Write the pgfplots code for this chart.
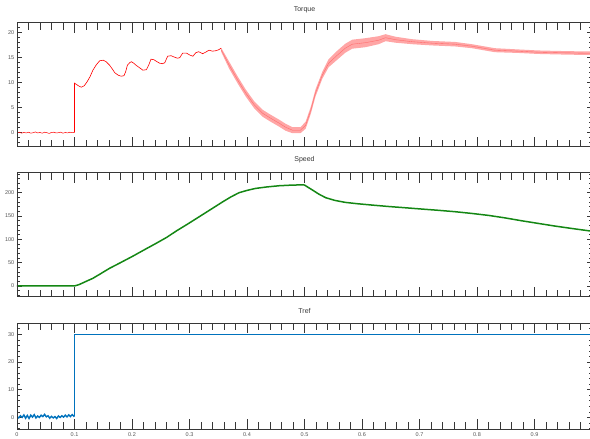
\documentclass[border=0pt]{standalone}
\usepackage{fontspec}
\setmainfont{Liberation Sans}
\usepackage{pgfplots}
\pgfplotsset{compat=1.18}
\usepgfplotslibrary{fillbetween}
\definecolor{mred}{RGB}{255,0,0}
\definecolor{mgreen}{RGB}{20,135,20}
\definecolor{mblue}{RGB}{0,114,189}
\definecolor{axgray}{RGB}{55,55,55}
\definecolor{lblgray}{RGB}{85,85,85}
\pgfplotsset{
  panel/.style={scale only axis, width=575pt, anchor=south west,
    xmin=0, xmax=1, tick align=inside,
    axis line style={axgray, line width=0.8pt},
    every tick/.style={axgray, line width=0.7pt},
    /pgf/number format/assume math mode=true},
  yside/.style={panel, xtick=\empty, major tick length=5pt, minor tick length=3pt,
    minor y tick num=4,
    yticklabel style={font=\fontsize{5.5}{5.5}\selectfont, text=lblgray, inner sep=0pt, xshift=-2.5pt},
    title style={font=\fontsize{7}{7}\selectfont, text=axgray, inner sep=0pt, yshift=4pt}},
  xside/.style={panel, ytick=\empty, xtick={0,0.1,...,1.0}, minor x tick num=4,
    major tick length=10pt, minor tick length=7pt, xticklabels={}},
}
\begin{document}
\begin{tikzpicture}
% ---------- Torque ----------
\begin{axis}[yside, at={(17pt,292.3pt)}, height=124pt, ymin=-2.8, ymax=22,
  ytick={-5,0,5,10,15,20,25}, title={Torque}]
\addplot[mred, line width=0.5pt] coordinates {
(0,0.0)(0.004,0.1)(0.008,-0.1)(0.012,0.05)(0.016,-0.05)(0.02,0.1)(0.024,-0.1)(0.028,0.0)
(0.032,0.15)(0.036,-0.05)(0.04,0.05)(0.044,-0.1)(0.048,0.1)(0.052,0.0)(0.056,-0.15)(0.06,0.05)
(0.064,0.1)(0.068,-0.05)(0.072,0.0)(0.076,0.1)(0.08,-0.1)(0.084,0.05)(0.088,-0.05)(0.092,0.1)
(0.096,0.0)(0.1,0.05)};
\addplot[mred, line width=0.6pt] coordinates {
(0.1,0.05)(0.1,9.9)(0.104,9.6)(0.108,9.3)(0.112,9.1)(0.117,9.4)(0.122,10.2)(0.127,11.2)
(0.132,12.5)(0.138,13.6)(0.144,14.4)(0.150,14.5)(0.155,14.2)(0.161,13.5)(0.166,12.7)(0.170,12.0)
(0.176,11.5)(0.181,11.3)(0.186,11.4)(0.189,12.2)(0.192,13.5)(0.196,14.0)(0.199,14.2)(0.203,13.9)
(0.207,13.5)(0.213,13.0)(0.219,12.5)(0.225,12.6)(0.229,13.5)(0.233,14.7)(0.238,14.6)(0.242,14.3)
(0.248,13.9)(0.253,13.8)(0.257,14.0)(0.262,15.3)(0.268,15.4)(0.274,15.1)(0.279,14.9)(0.283,15.0)
(0.288,15.9)(0.295,15.9)(0.301,15.5)(0.306,15.3)(0.311,16.0)(0.316,16.2)(0.323,15.8)(0.328,16.1)
(0.334,16.5)(0.340,16.3)(0.346,16.4)(0.351,16.6)(0.355,16.9)};
\addplot[name path=U, draw=none, forget plot] coordinates {
(0.355,17.0)(0.369,14.2)(0.384,11.2)(0.398,8.6)(0.413,6.2)(0.427,4.6)(0.441,3.6)(0.456,2.6)
(0.467,1.8)(0.479,1.1)(0.493,1.1)(0.502,2.2)(0.511,5.2)(0.519,8.6)(0.531,12.2)(0.542,14.7)
(0.557,16.4)(0.571,17.8)(0.583,18.6)(0.606,18.9)(0.629,19.3)(0.641,19.7)(0.658,19.2)(0.687,18.7)
(0.722,18.35)(0.762,18.15)(0.791,17.7)(0.831,16.9)(0.872,16.65)(0.906,16.45)(0.941,16.35)
(0.987,16.25)(1.0,16.25)};
\addplot[name path=L, draw=none, forget plot] coordinates {
(0.355,16.2)(0.369,12.8)(0.384,9.8)(0.398,7.2)(0.413,4.8)(0.427,3.2)(0.441,2.2)(0.456,1.2)
(0.467,0.4)(0.479,-0.1)(0.493,-0.1)(0.502,0.8)(0.511,3.8)(0.519,7.2)(0.531,10.8)(0.542,13.1)
(0.557,14.6)(0.571,16.0)(0.583,16.8)(0.606,17.1)(0.629,17.7)(0.641,18.3)(0.658,18.0)(0.687,17.7)
(0.722,17.45)(0.762,17.25)(0.791,16.9)(0.831,16.1)(0.872,15.95)(0.906,15.75)(0.941,15.65)
(0.987,15.55)(1.0,15.55)};
\addplot[mred!35, draw=none] fill between[of=U and L];
\addplot[mred!60, line width=0.35pt] coordinates {
(0.355,16.6)(0.369,13.5)(0.384,10.5)(0.398,7.9)(0.413,5.5)(0.427,3.9)(0.441,2.9)(0.456,1.9)
(0.467,1.1)(0.479,0.5)(0.493,0.5)(0.502,1.5)(0.511,4.5)(0.519,7.9)(0.531,11.5)(0.542,13.9)
(0.557,15.5)(0.571,16.9)(0.583,17.7)(0.606,18.0)(0.629,18.5)(0.641,19.0)(0.658,18.6)(0.687,18.2)
(0.722,17.9)(0.762,17.7)(0.791,17.3)(0.831,16.5)(0.872,16.3)(0.906,16.1)(0.941,16.0)
(0.987,15.9)(1.0,15.9)};
\end{axis}
\begin{axis}[xside, at={(17pt,292.3pt)}, height=124pt, ymin=-2.8, ymax=22]
\end{axis}
% ---------- Speed ----------
\begin{axis}[yside, at={(17pt,142.3pt)}, height=124pt, ymin=-23, ymax=243,
  ytick={-50,0,50,100,150,200,250}, title={Speed}]
\addplot[mgreen, line width=1.5pt] coordinates {
(0,0)(0.1,0)(0.108,3)(0.116,7.5)(0.124,12)(0.132,16.4)(0.145,26)(0.161,37.9)(0.18,50)
(0.202,64.3)(0.222,78)(0.242,91.5)(0.26,104)(0.277,117.9)(0.297,133)(0.317,148.6)(0.338,165)
(0.358,180.7)(0.372,191)(0.386,200)(0.40,205)(0.415,209.3)(0.435,212.5)(0.456,215)(0.475,216.2)
(0.497,217)(0.50,216.5)(0.507,211)(0.514,205.7)(0.525,197)(0.537,189.3)(0.553,183.5)(0.571,179.3)
(0.593,176.3)(0.617,173.6)(0.646,170.5)(0.675,167.8)(0.704,165)(0.733,162.3)(0.762,159.3)
(0.791,155.6)(0.820,151.4)(0.849,146)(0.877,140)(0.906,134.3)(0.935,128.6)(0.964,123.5)
(0.993,118.6)(1.0,117.4)};
\end{axis}
\begin{axis}[xside, at={(17pt,142.3pt)}, height=124pt, ymin=-23, ymax=243]
\end{axis}
% ---------- Tref ----------
\begin{axis}[yside, at={(17pt,9.7pt)}, height=106pt, ymin=-4.3, ymax=34,
  ytick={-10,0,10,20,30,40}, title={Tref}]
\addplot[mblue, line width=1.4pt] coordinates {
(0,0.3)(0.003,-0.2)(0.006,0.6)(0.009,0.0)(0.012,0.9)(0.015,-0.3)(0.018,0.7)(0.021,-0.4)
(0.024,0.8)(0.027,0.1)(0.030,1.0)(0.033,-0.2)(0.036,0.5)(0.039,0.0)(0.042,0.8)(0.045,0.3)
(0.048,1.1)(0.051,0.2)(0.054,0.6)(0.057,-0.3)(0.060,0.4)(0.063,-0.2)(0.066,0.3)(0.069,-0.4)
(0.072,0.5)(0.075,0.0)(0.078,0.6)(0.081,0.1)(0.084,0.8)(0.087,0.2)(0.090,0.9)(0.093,0.3)
(0.096,1.0)(0.099,0.4)(0.1,0.6)};
\addplot[mblue, line width=1.2pt] coordinates {(0.1,0.6)(0.1,30)(1.0,30)};
\end{axis}
\begin{axis}[xside, at={(17pt,9.7pt)}, height=106pt, ymin=-4.3, ymax=34,
  xticklabels={0,0.1,0.2,0.3,0.4,0.5,0.6,0.7,0.8,0.9,{}},
  xticklabel style={font=\fontsize{5.5}{5.5}\selectfont, text=lblgray, inner sep=0pt, yshift=-3.5pt}]
\end{axis}
\pgfresetboundingbox
\path[use as bounding box] (0pt,0pt) rectangle (590pt,439pt);
\end{tikzpicture}
\end{document}
